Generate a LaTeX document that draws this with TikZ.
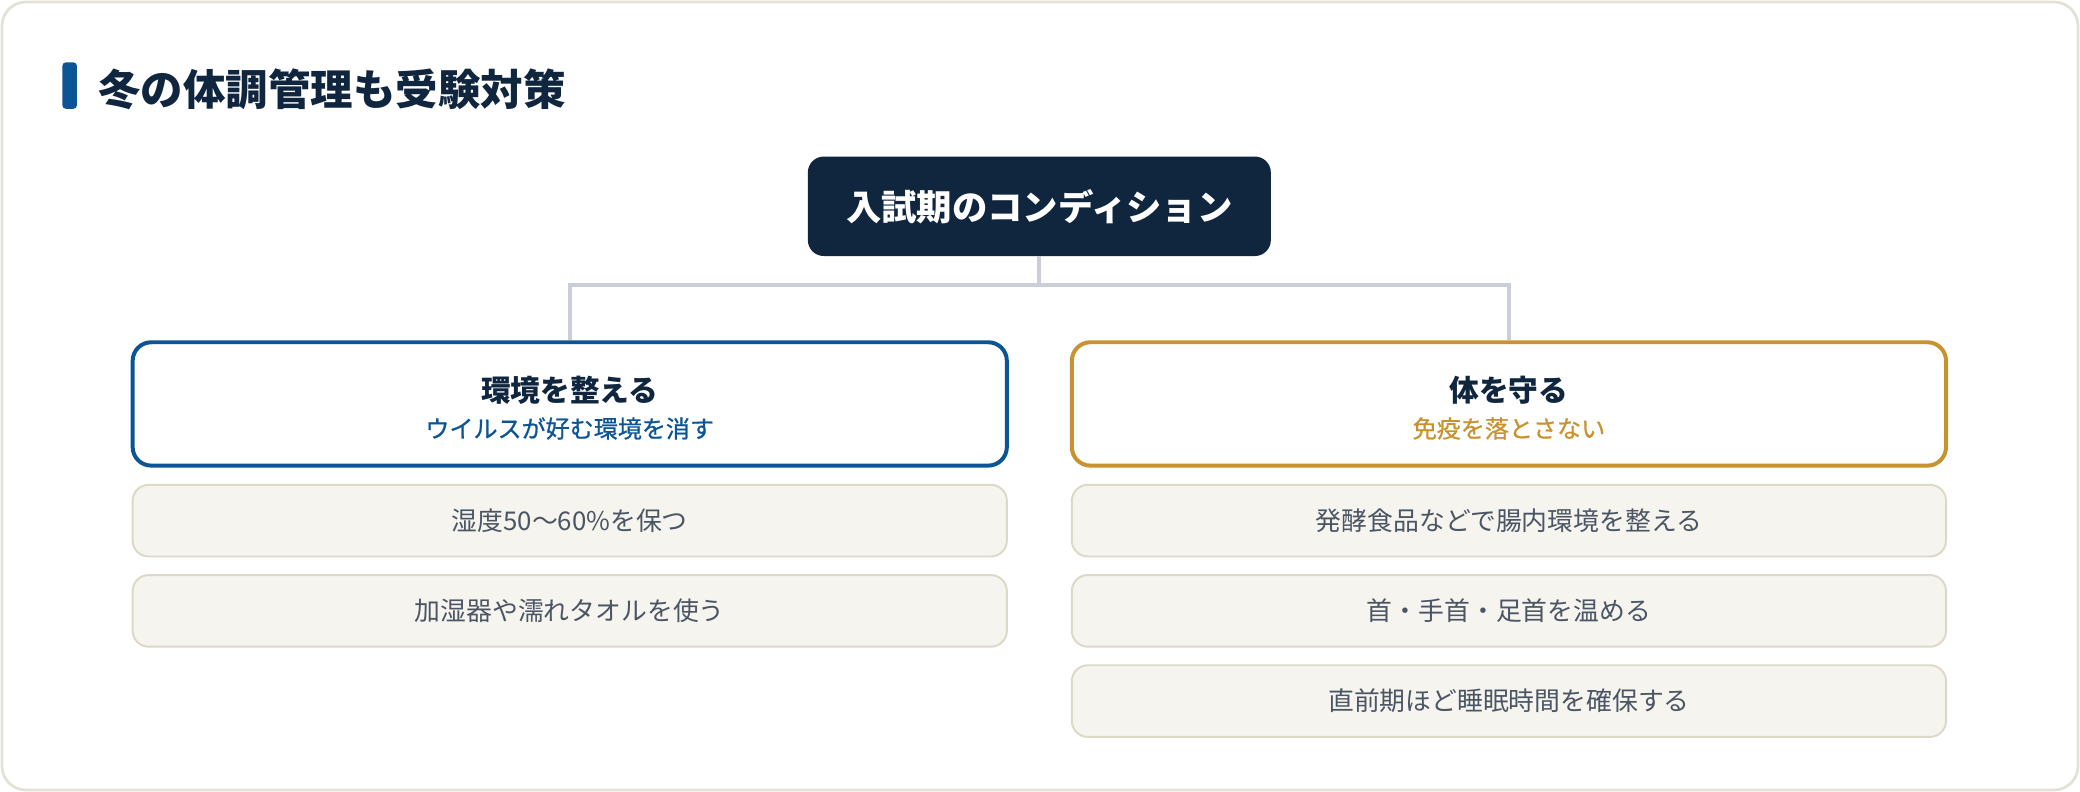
\documentclass[tikz,border=0pt]{standalone}
\usepackage{fontspec}
\setmainfont{Noto Sans CJK JP}
\newfontfamily\medfont[FakeBold=0.7]{Noto Sans CJK JP}
\usetikzlibrary{calc}
\definecolor{navy}{HTML}{10263F}
\definecolor{bluec}{HTML}{0B5596}
\definecolor{goldc}{HTML}{C8922F}
\definecolor{framec}{HTML}{E3E1D6}
\definecolor{connc}{HTML}{C9CED8}
\definecolor{itemfill}{HTML}{F5F4EF}
\definecolor{itemdraw}{HTML}{DCD9C8}
\definecolor{itemtext}{HTML}{4B5563}
\tikzset{
  headbox/.style={draw, fill=white, line width=2.25pt, rounded corners=10.5pt,
    minimum width=494.25pt, minimum height=69.75pt, inner sep=0pt},
  itembox/.style={draw=itemdraw, fill=itemfill, line width=1.1pt, rounded corners=9pt,
    minimum width=494.25pt, minimum height=40.5pt, inner sep=0pt, text=itemtext,
    font=\fontsize{14.6}{17}\selectfont},
  headtitle/.style={inner sep=0pt, text=navy, font=\bfseries\fontsize{16.8}{20}\selectfont},
  headsub/.style={inner sep=0pt, font=\medfont\fontsize{13.6}{16}\selectfont},
  conn/.style={draw=connc, line width=2.2pt}
}
\begin{document}
\begin{tikzpicture}[x=0.75pt,y=-0.75pt]
\useasboundingbox (0,0) rectangle (1568,597);
\draw[framec, line width=1.5pt, fill=white, rounded corners=13.5pt] (1.5,1.5) rectangle (1566.5,595.5);
% title
\node[fill=bluec, rounded corners=2pt, minimum width=8.25pt, minimum height=26.25pt, inner sep=0pt] (bar) at (52.5,64.5) {};
\node[anchor=west, inner sep=0pt, text=navy, font=\bfseries\fontsize{24}{28}\selectfont] (title) at (74,67) {冬の体調管理も受験対策};
% root
\node[fill=navy, rounded corners=9pt, minimum width=261.75pt, minimum height=56.25pt, inner sep=0pt,
  text=white, font=\bfseries\fontsize{20}{24}\selectfont] (root) at (783.5,155.5) {入試期のコンディション};
% headers
\node[headbox, draw=bluec] (lh) at (429.5,304.5) {};
\node[headbox, draw=goldc] (rh) at (1137.5,304.5) {};
\node[headtitle] (lht) at (429.5,294) {環境を整える};
\node[headsub, text=bluec] (lhs) at (429.5,323) {ウイルスが好む環境を消す};
\node[headtitle] (rht) at (1137.5,294) {体を守る};
\node[headsub, text=goldc] (rhs) at (1137.5,323) {免疫を落とさない};
% connectors
\coordinate (j) at (783.5,215);
\draw[conn] (root.south) -- (j);
\draw[conn] (lh.north) -- (lh.north |- j) -- (rh.north |- j) -- (rh.north);
% items
\node[itembox] (l1) at (429.5,392.5) {湿度50〜60\%を保つ};
\node[itembox] (l2) at (429.5,460.5) {加湿器や濡れタオルを使う};
\node[itembox] (r1) at (1137.5,392.5) {発酵食品などで腸内環境を整える};
\node[itembox] (r2) at (1137.5,460.5) {首・手首・足首を温める};
\node[itembox] (r3) at (1137.5,528.5) {直前期ほど睡眠時間を確保する};
\end{tikzpicture}
\end{document}
